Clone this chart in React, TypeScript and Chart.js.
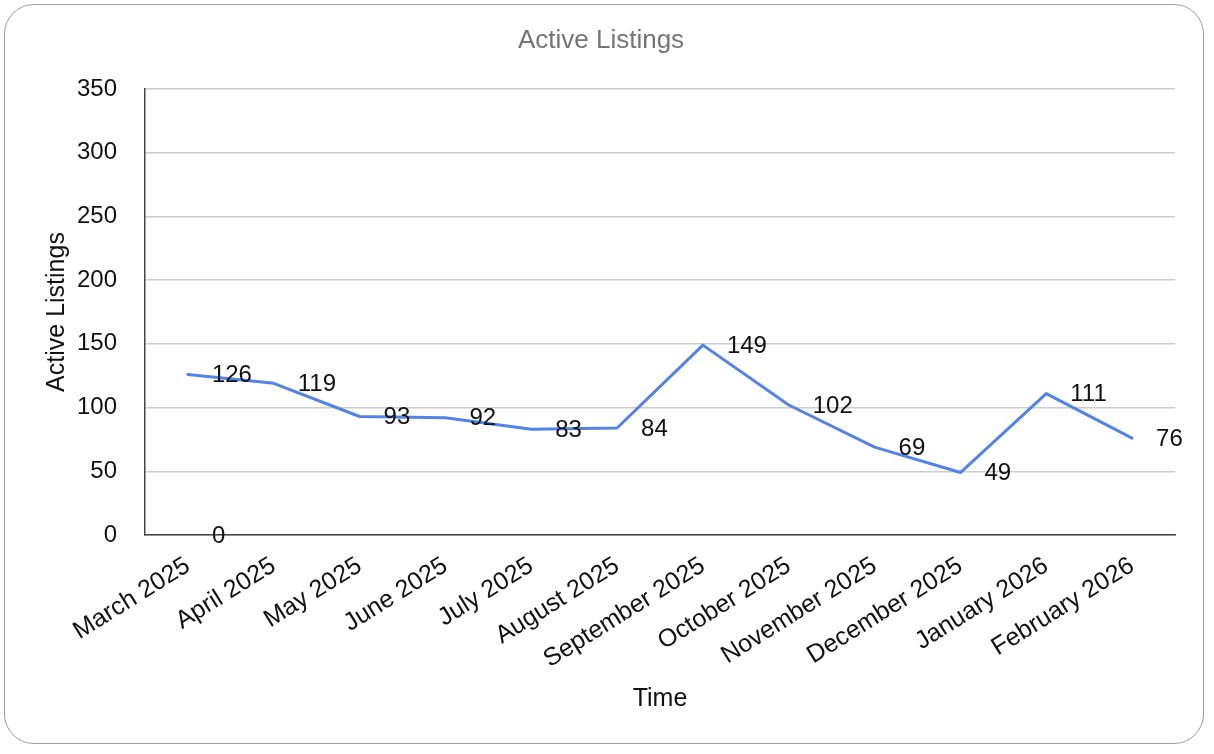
import React, { useEffect, useRef } from "react";
import { Chart, registerables } from "chart.js";

Chart.register(...registerables);

const categories = [
  "March 2025", "April 2025", "May 2025", "June 2025", "July 2025", "August 2025",
  "September 2025", "October 2025", "November 2025", "December 2025", "January 2026", "February 2026",
];
const activeListings = [126, 119, 93, 92, 83, 84, 149, 102, 69, 49, 111, 76];
// Stray "0" data label that the source chart shows at the first category
const strayLabelSeries = [0, null, null, null, null, null, null, null, null, null, null, null];
const yTicks = [0, 50, 100, 150, 200, 250, 300, 350];

const FONT = "'Liberation Sans', Arial, Helvetica, sans-serif";

const labelPlugin = {
  id: "valueLabels",
  afterDatasetsDraw(chart: any) {
    const ctx = chart.ctx;
    ctx.save();
    ctx.font = `24px ${FONT}`;
    ctx.fillStyle = "#111";
    ctx.textAlign = "left";
    ctx.textBaseline = "middle";
    chart.data.datasets.forEach((ds: any, di: number) => {
      const meta = chart.getDatasetMeta(di);
      meta.data.forEach((pt: any, i: number) => {
        const v = ds.data[i];
        if (v === null || v === undefined) return;
        ctx.fillText(String(v), pt.x + 24, pt.y + 1);
      });
    });
    ctx.restore();
  },
  afterDraw(chart: any) {
    const ctx = chart.ctx;
    ctx.save();
    ctx.font = `26px ${FONT}`;
    ctx.fillStyle = "#757575";
    ctx.textAlign = "center";
    ctx.textBaseline = "middle";
    ctx.fillText("Active Listings", 601, 41);
    ctx.restore();
  },
};

export default function App() {
  const ref = useRef<HTMLCanvasElement | null>(null);

  useEffect(() => {
    document.body.style.margin = "0";
    const canvas = ref.current;
    if (!canvas) return;
    const chart = new Chart(canvas, {
      type: "line",
      data: {
        labels: categories,
        datasets: [
          {
            label: "Active Listings",
            data: activeListings,
            borderColor: "#5283e6",
            backgroundColor: "#5283e6",
            borderWidth: 3,
            pointRadius: 0,
            tension: 0,
            borderJoinStyle: "round",
            borderCapStyle: "round",
          },
          {
            label: "stray",
            data: strayLabelSeries as any,
            borderColor: "rgba(0,0,0,0)",
            backgroundColor: "rgba(0,0,0,0)",
            pointRadius: 0,
            borderWidth: 0,
          },
        ],
      },
      options: {
        responsive: false,
        animation: false,
        layout: { padding: { top: 89, right: 39, left: 0, bottom: 0 } },
        plugins: {
          legend: { display: false },
          tooltip: { enabled: false },
          title: { display: false },
        },
        scales: {
          x: {
            type: "category",
            offset: true,
            grid: { display: false, drawTicks: false },
            border: { display: true, color: "#444", width: 1.5 },
            ticks: {
              color: "#111",
              font: { family: FONT, size: 25 },
              minRotation: 32,
              maxRotation: 32,
              autoSkip: false,
              padding: 16,
            },
            title: {
              display: true,
              text: "Time",
              color: "#111",
              font: { family: FONT, size: 25 },
              padding: { top: 0, bottom: 40 },
            },
            afterFit(scale: any) {
              scale.height = 219;
            },
          },
          y: {
            min: 0,
            max: 350,
            afterBuildTicks(scale: any) {
              scale.ticks = yTicks.map((v) => ({ value: v }));
            },
            grid: { color: "#cccccc", lineWidth: 1.5, drawTicks: false },
            border: { display: true, color: "#444", width: 1.5 },
            ticks: {
              color: "#111",
              font: { family: FONT, size: 24 },
              padding: 28,
            },
            title: {
              display: true,
              text: "Active Listings",
              color: "#111",
              font: { family: FONT, size: 25 },
              padding: { top: 42, bottom: 0 },
            },
            afterFit(scale: any) {
              scale.width = 145;
            },
          },
        },
      },
      plugins: [labelPlugin],
    });
    return () => chart.destroy();
  }, []);

  return (
    <div style={{ position: "relative", width: 1214, height: 754, background: "#fff", overflow: "hidden" }}>
      <div
        style={{
          position: "absolute",
          left: 4,
          top: 4,
          width: 1198,
          height: 738,
          border: "1.5px solid #9e9e9e",
          borderRadius: 30,
          background: "#fff",
        }}
      />
      <canvas
        ref={ref}
        width={1214}
        height={754}
        style={{ position: "absolute", left: 0, top: 0, width: 1214, height: 754 }}
      />
    </div>
  );
}
